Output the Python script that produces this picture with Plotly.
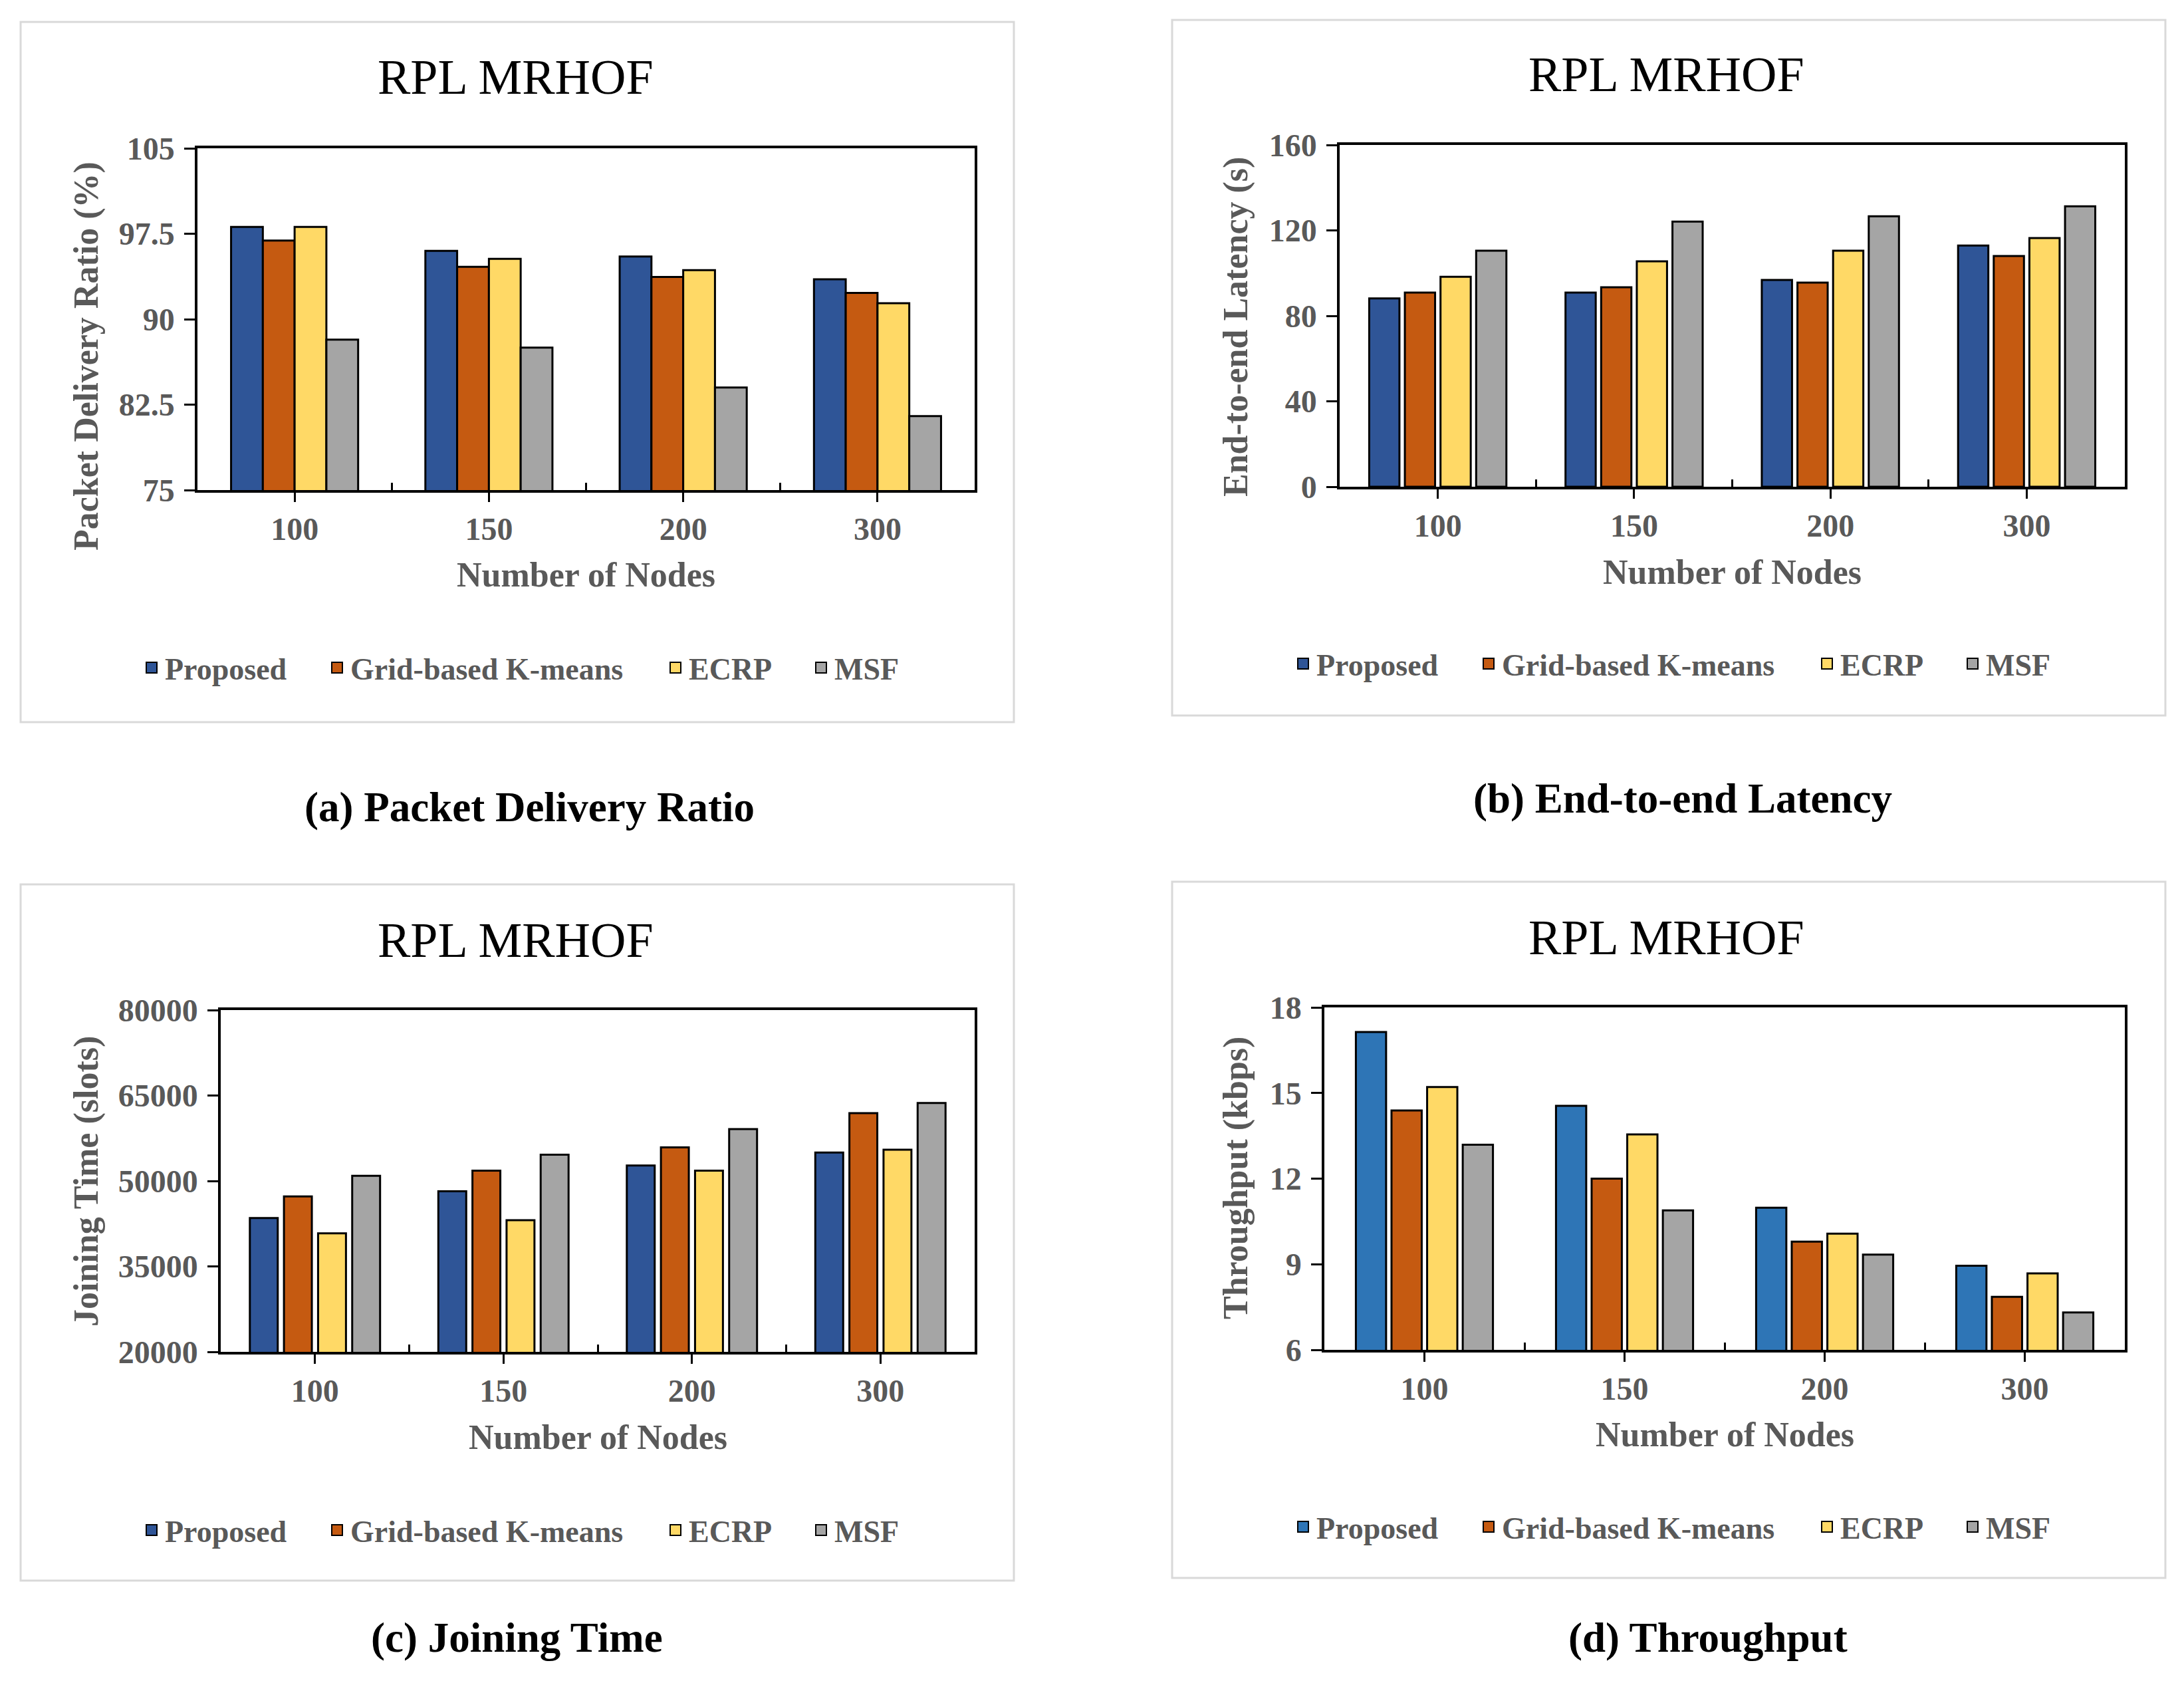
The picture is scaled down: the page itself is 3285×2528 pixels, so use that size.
import plotly.graph_objects as go

W, H = 3285, 2528
PAGE_OFFSET = 8  # body margin of the html page

nodes = ["100", "150", "200", "300"]
series = ["Proposed", "Grid-based K-means", "ECRP", "MSF"]

# (a) packet delivery ratio (%)
pdr_proposed = [98.1, 96.0, 95.5, 93.5]
pdr_grid = [96.9, 94.6, 93.7, 92.3]
pdr_ecrp = [98.1, 95.3, 94.3, 91.4]
pdr_msf = [88.2, 87.5, 84.0, 81.5]

# (b) end-to-end latency (s)
lat_proposed = [88.2, 90.9, 96.8, 112.9]
lat_grid = [90.9, 93.4, 95.6, 108.0]
lat_ecrp = [98.3, 105.5, 110.5, 116.4]
lat_msf = [110.5, 124.1, 126.6, 131.3]

# (c) joining time (slots)
join_proposed = [43500, 48200, 52700, 55000]
join_grid = [47300, 51800, 55900, 61900]
join_ecrp = [40800, 43100, 51800, 55500]
join_msf = [50900, 54600, 59100, 63700]

# (d) throughput (kbps)
thr_proposed = [17.14, 14.55, 10.98, 8.95]
thr_grid = [14.39, 12.0, 9.79, 7.86]
thr_ecrp = [15.21, 13.55, 10.07, 8.68]
thr_msf = [13.19, 10.89, 9.34, 7.31]

FONT = "Liberation Serif"
GRAY = "#595959"
tick_font = dict(family=FONT, size=48, color=GRAY, weight="bold")
label_font = dict(family=FONT, size=52, color=GRAY, weight="bold")
legend_font = dict(family=FONT, size=46, color=GRAY, weight="bold")
title_font = dict(family=FONT, size=74, color="black")
caption_font = dict(family=FONT, size=63, color="black", weight="bold")

dark_blue = "#2F5597"
light_blue = "#2E75B6"
orange = "#C55A11"
yellow = "#FFD966"
gray = "#A5A5A5"

# left edge of each legend label, measured from the panel frame
legend_text_left = [217, 496, 1005, 1224]


def px_x(v):
    return (v - PAGE_OFFSET) / W


def px_y(v):
    return 1 - (v - PAGE_OFFSET) / H


panels = [
    dict(values=[pdr_proposed, pdr_grid, pdr_ecrp, pdr_msf],
         colors=[dark_blue, orange, yellow, gray],
         plot=(297, 1466, 223, 737), frame=(31, 1525, 33, 1086),
         yrange=[75, 105], dtick=7.5, fmt="", ytitle="Packet Delivery Ratio (%)",
         ytitle_pos=(130, 536), xtitle_y=865, legend_y=1004,
         title_pos=(775, 116), caption="(a) Packet Delivery Ratio", caption_pos=(796, 1214),
         bar_w=0.1635, step=0.1635),
    dict(values=[lat_proposed, lat_grid, lat_ecrp, lat_msf],
         colors=[dark_blue, orange, yellow, gray],
         plot=(2015, 3196, 218, 732), frame=(1763, 3257, 30, 1076),
         yrange=[0, 160], dtick=40, fmt="", ytitle="End-to-end Latency (s)",
         ytitle_pos=(1859, 492), xtitle_y=860, legend_y=998,
         title_pos=(2506, 112), caption="(b) End-to-end Latency", caption_pos=(2531, 1201),
         bar_w=0.154, step=0.1816),
    dict(values=[join_proposed, join_grid, join_ecrp, join_msf],
         colors=[dark_blue, orange, yellow, gray],
         plot=(332, 1466, 1519, 2033), frame=(31, 1525, 1330, 2377),
         yrange=[20000, 80000], dtick=15000, fmt="d", ytitle="Joining Time (slots)",
         ytitle_pos=(130, 1777), xtitle_y=2161, legend_y=2301,
         title_pos=(775, 1414), caption="(c) Joining Time", caption_pos=(777, 2463),
         bar_w=0.148, step=0.181),
    dict(values=[thr_proposed, thr_grid, thr_ecrp, thr_msf],
         colors=[light_blue, orange, yellow, gray],
         plot=(1992, 3196, 1515, 2030), frame=(1763, 3257, 1326, 2373),
         yrange=[6, 18], dtick=3, fmt="", ytitle="Throughput (kbps)",
         ytitle_pos=(1859, 1772), xtitle_y=2157, legend_y=2296,
         title_pos=(2506, 1410), caption="(d) Throughput", caption_pos=(2569, 2463),
         bar_w=0.151, step=0.178),
]

xpos = list(range(len(nodes)))
boundaries = [x + 0.5 for x in xpos[:-1]]

fig = go.Figure()
shapes = []
annotations = []
layout = {}

for k, p in enumerate(panels):
    n = k + 1
    sfx = "" if n == 1 else str(n)
    fx0, fx1, fy0, fy1 = p["frame"]

    for i, (name, vals) in enumerate(zip(series, p["values"])):
        fig.add_trace(go.Bar(
            x=xpos, y=vals, name=name, showlegend=False,
            xaxis="x" + sfx, yaxis="y" + sfx,
            width=p["bar_w"], offset=(i - 1.5) * p["step"] - p["bar_w"] / 2,
            marker=dict(color=p["colors"][i], line=dict(color="black", width=3)),
        ))
        # legend entry only (bar legend icons are tiny), one legend per entry
        # so each label sits where the reference has it
        lg_num = k * len(series) + i + 1
        lg = "legend" if lg_num == 1 else "legend%d" % lg_num
        fig.add_trace(go.Scatter(
            x=[None], y=[None], mode="markers", name=name, showlegend=True,
            xaxis="x" + sfx, yaxis="y" + sfx, legend=lg, hoverinfo="skip",
            marker=dict(symbol="square", size=16, color=p["colors"][i],
                        line=dict(color="black", width=2)),
        ))
        layout[lg] = dict(
            orientation="h", x=px_x(fx0 + legend_text_left[i] - 40), xanchor="left",
            y=px_y(p["legend_y"]), yanchor="middle", visible=True,
            font=legend_font, bgcolor="rgba(0,0,0,0)", borderwidth=0,
        )

    x0, x1, y0, y1 = p["plot"]
    layout["xaxis" + sfx] = dict(
        domain=[px_x(x0), px_x(x1)], anchor="y" + sfx,
        range=[-0.5, len(nodes) - 0.5],
        tickmode="array", tickvals=xpos, ticktext=nodes,
        ticks="outside", ticklen=14, tickwidth=2.5, tickcolor="black",
        ticklabelstandoff=0,
        minor=dict(tickmode="array", tickvals=boundaries, ticks="inside",
                   ticklen=11, tickwidth=2.5, tickcolor="black", showgrid=False),
        showline=True, linecolor="black", linewidth=3.5, mirror=True,
        showgrid=False, zeroline=False, tickfont=tick_font, automargin=False,
    )
    layout["yaxis" + sfx] = dict(
        domain=[px_y(y1), px_y(y0)], anchor="x" + sfx,
        range=p["yrange"], tick0=p["yrange"][0], dtick=p["dtick"],
        tickformat=p["fmt"],
        ticks="outside", ticklen=16, tickwidth=2.5, tickcolor="black",
        ticklabelstandoff=5,
        showline=True, linecolor="black", linewidth=3.5, mirror=True,
        showgrid=False, zeroline=False, tickfont=tick_font, automargin=False,
    )

    shapes.append(dict(type="rect", xref="paper", yref="paper",
                       x0=px_x(fx0), x1=px_x(fx1), y0=px_y(fy1), y1=px_y(fy0),
                       line=dict(color="#D9D9D9", width=3)))

    annotations.append(dict(text="RPL MRHOF", x=px_x(p["title_pos"][0]), y=px_y(p["title_pos"][1]),
                            xref="paper", yref="paper", showarrow=False,
                            xanchor="center", yanchor="middle", font=title_font))
    annotations.append(dict(text=p["caption"], x=px_x(p["caption_pos"][0]), y=px_y(p["caption_pos"][1]),
                            xref="paper", yref="paper", showarrow=False,
                            xanchor="center", yanchor="middle", font=caption_font))
    annotations.append(dict(text="Number of Nodes", x=px_x((x0 + x1) / 2), y=px_y(p["xtitle_y"]),
                            xref="paper", yref="paper", showarrow=False,
                            xanchor="center", yanchor="middle", font=label_font))
    annotations.append(dict(text=p["ytitle"], x=px_x(p["ytitle_pos"][0]), y=px_y(p["ytitle_pos"][1]),
                            xref="paper", yref="paper", showarrow=False, textangle=-90,
                            xanchor="center", yanchor="middle", font=label_font))

fig.update_layout(
    width=W, height=H,
    margin=dict(l=0, r=0, t=0, b=0, autoexpand=False),
    paper_bgcolor="white", plot_bgcolor="white",
    showlegend=True,
    barmode="overlay",
    shapes=shapes, annotations=annotations,
    **layout,
)

fig.write_html("out.html")
